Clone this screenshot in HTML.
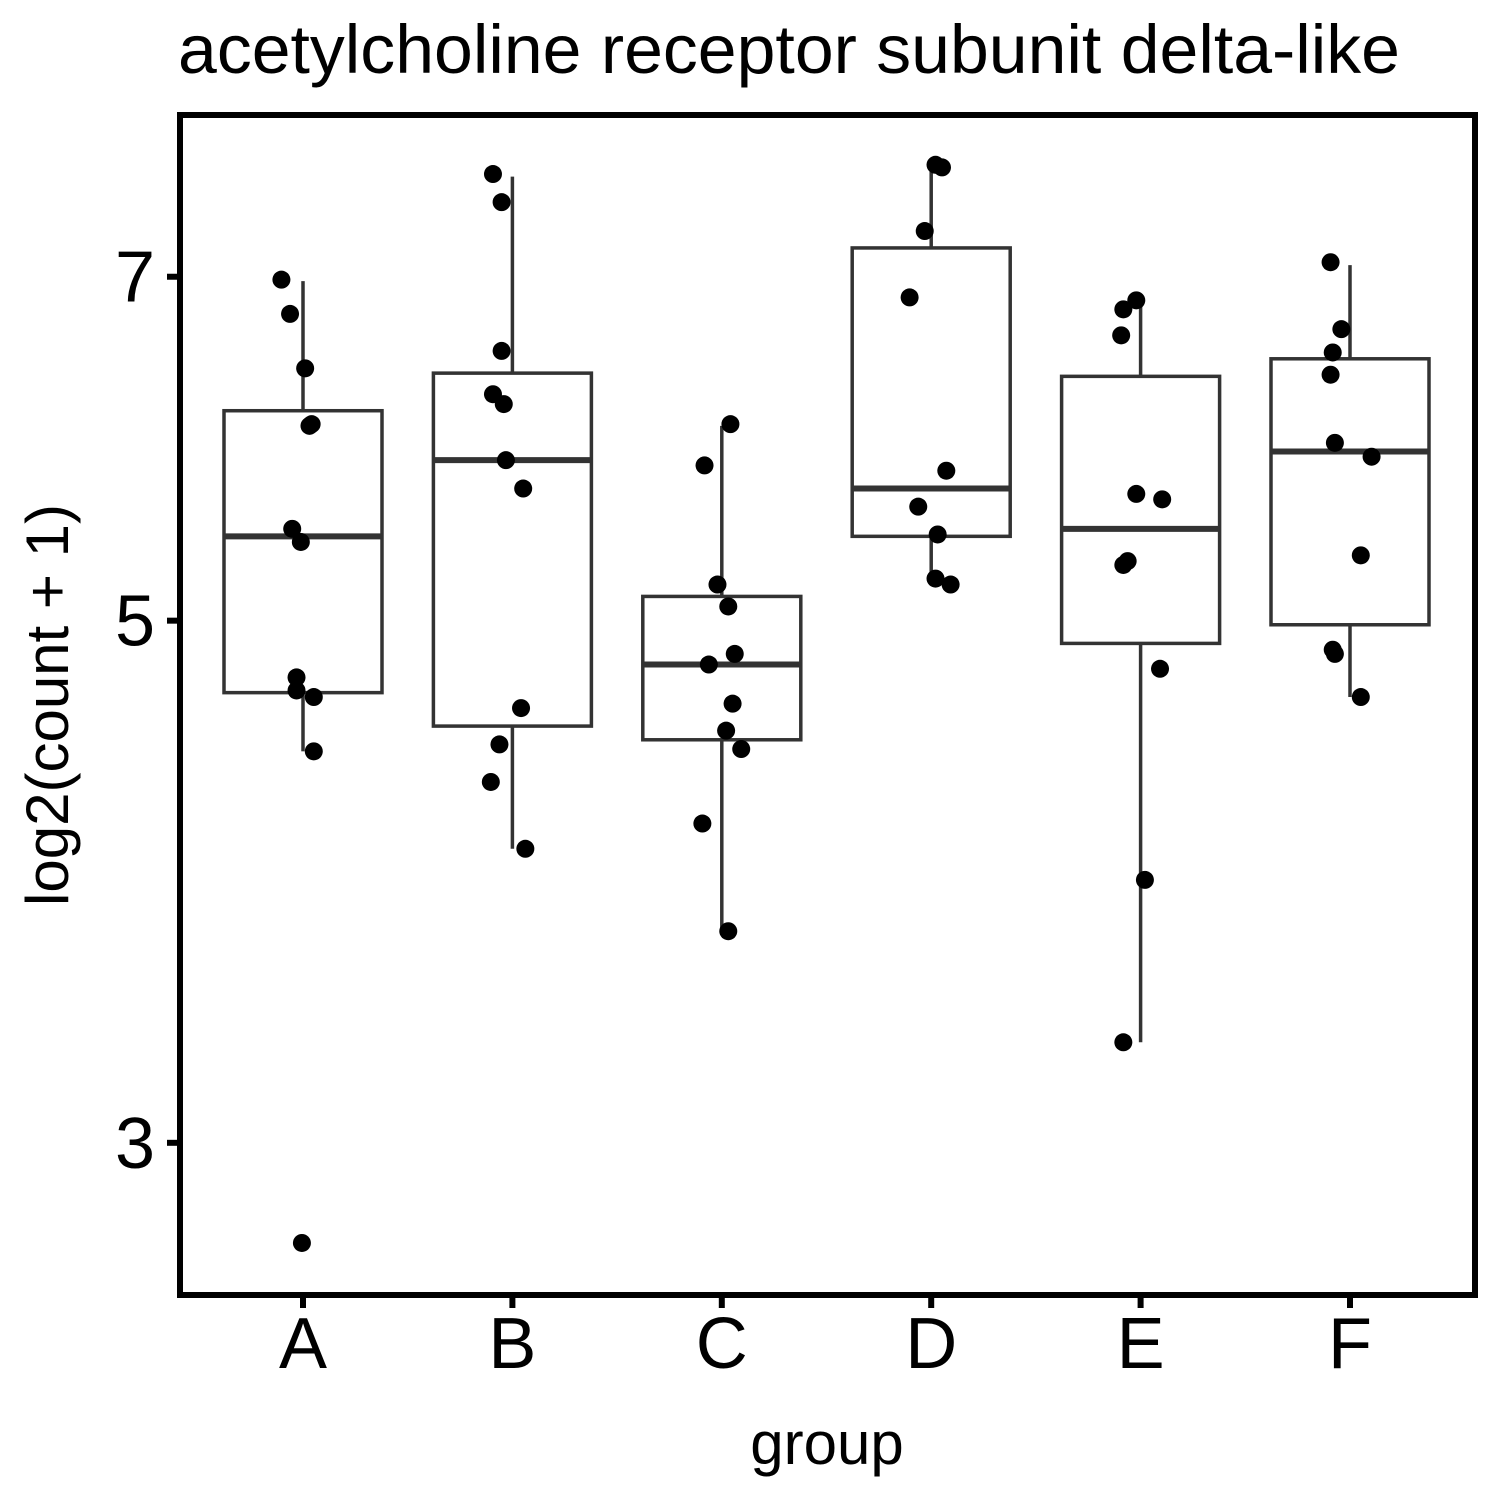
<!DOCTYPE html>
<html><head><meta charset="utf-8"><style>
html,body{margin:0;padding:0;background:#fff;}
svg{display:block;font-family:"Liberation Sans",Arial,sans-serif;}
</style></head><body>
<svg id="chart" width="1500" height="1500" viewBox="0 0 1500 1500" xmlns="http://www.w3.org/2000/svg">
<text x="178" y="73" font-size="69" fill="#000" textLength="1222" lengthAdjust="spacingAndGlyphs">acetylcholine receptor subunit delta-like</text>
<g id="marks"></g>
<rect x="180" y="115" width="1295" height="1180" fill="none" stroke="#000" stroke-width="6"/>
<g id="axes"></g>
<text x="827" y="1464" font-size="60" text-anchor="middle">group</text>
<text transform="translate(68,705) rotate(-90)" font-size="60" text-anchor="middle">log2(count + 1)</text>
</svg>
<script>
const categories = ["A","B","C","D","E","F"];
const yTicks = [3,5,7];
const q1 = [4.66,4.51,4.45,5.43,4.89,4.98];
const medians = [5.43,5.85,4.79,5.69,5.47,5.90];
const q3 = [6.14,6.37,5.12,7.20,6.35,6.46];
const whiskerLow = [4.40,4.00,3.69,5.18,3.31,4.64];
const whiskerHigh = [6.97,7.72,6.05,7.80,6.84,7.08];
const pointValues = [
 [6.98,6.75,6.40,6.05,6.06,5.47,5.40,4.73,4.67,4.64,4.40,2.72],
 [7.74,7.53,6.51,6.24,6.18,5.85,5.69,4.59,4.43,4.27,4.00],
 [6.06,5.82,5.18,5.07,4.84,4.79,4.61,4.49,4.41,4.10,3.69],
 [7.81,7.79,7.32,6.86,5.79,5.59,5.44,5.21,5.18],
 [6.84,6.78,6.61,5.66,5.63,5.30,5.28,4.77,3.88,3.31],
 [7.10,6.65,6.50,6.36,5.95,5.87,5.33,4.86,4.84,4.64]
];
const pointJitter = [
 [-0.10,-0.06,0.01,0.03,0.04,-0.05,-0.01,-0.03,-0.03,0.05,0.05,-0.005],
 [-0.09,-0.05,-0.05,-0.09,-0.04,-0.03,0.05,0.04,-0.06,-0.10,0.06],
 [0.04,-0.08,-0.02,0.03,0.06,-0.06,0.05,0.02,0.09,-0.09,0.03],
 [0.02,0.05,-0.03,-0.10,0.07,-0.06,0.03,0.02,0.09],
 [-0.02,-0.08,-0.09,-0.02,0.10,-0.06,-0.08,0.09,0.02,-0.08],
 [-0.09,-0.04,-0.08,-0.09,-0.07,0.10,0.05,-0.08,-0.07,0.05]
];
const NS="http://www.w3.org/2000/svg";
const px0=180, px1=1475, py0=115, py1=1295;
const yMin=2.585, yMax=8.2;
function yScale(v){return py1-(Math.log(v)-Math.log(yMin))/(Math.log(yMax)-Math.log(yMin))*(py1-py0);}
const band=(px1-px0)/categories.length;
function xScale(i){return 303+i*209.4;}
const halfW=79;
function mk(tag,attrs,parent){const e=document.createElementNS(NS,tag);for(const k in attrs)e.setAttribute(k,attrs[k]);parent.appendChild(e);return e;}
const marks=document.getElementById('marks'), axes=document.getElementById('axes');
categories.forEach((c,i)=>{
  const x=xScale(i);
  const g=mk('g',{},marks);
  
  
  const w1=mk('line',{x1:x,x2:x,y1:yScale(whiskerHigh[i]),y2:yScale(q3[i]),stroke:'#333','stroke-width':3.5},g);
  
  
  const w2=mk('line',{x1:x,x2:x,y1:yScale(q1[i]),y2:yScale(whiskerLow[i]),stroke:'#333','stroke-width':3.5},g);
  
  
  const r=mk('rect',{x:x-halfW,y:yScale(q3[i]),width:2*halfW,height:yScale(q1[i])-yScale(q3[i]),fill:'#fff',stroke:'#333','stroke-width':3.5},g);
  
  
  const m=mk('line',{x1:x-halfW,x2:x+halfW,y1:yScale(medians[i]),y2:yScale(medians[i]),stroke:'#333','stroke-width':6},g);
  
  
  pointValues[i].forEach((v,j)=>{
    const p=mk('circle',{cx:x+pointJitter[i][j]*band,cy:yScale(v),r:9,fill:'#000'},g);
    
    
  });
  const t=mk('line',{x1:x,x2:x,y1:py1,y2:py1+13,stroke:'#000','stroke-width':6},axes);
  
  
  const l=mk('text',{x:x,y:1368,'font-size':72,'text-anchor':'middle',fill:'#000'},axes);
  l.textContent=c;
  
  
});
yTicks.forEach(v=>{
  const y=yScale(v);
  const t=mk('line',{x1:px0-13,x2:px0,y1:y,y2:y,stroke:'#000','stroke-width':6},axes);
  
  
  const l=mk('text',{x:155,y:y+25,'font-size':72,'text-anchor':'end',fill:'#000'},axes);
  l.textContent=v;
  
  
});
</script>
</body></html>
